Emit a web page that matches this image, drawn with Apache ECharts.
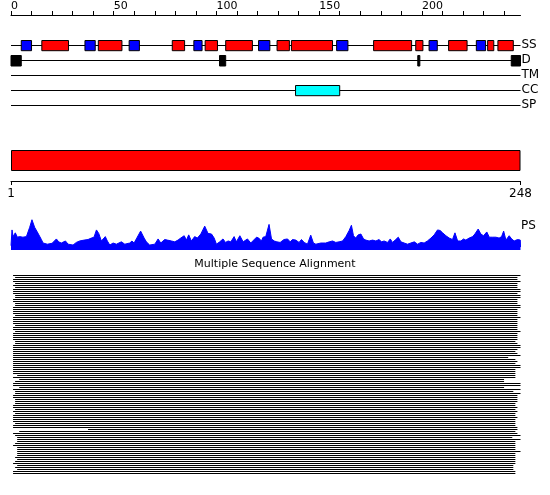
<!DOCTYPE html>
<html>
<head>
<meta charset="utf-8">
<title>Protein feature summary</title>
<script src="https://cdn.jsdelivr.net/npm/echarts@6/dist/echarts.min.js"></script>
<style>
  html, body { margin: 0; padding: 0; background: #fff; }
  #main { width: 550px; height: 495px; }
</style>
</head>
<body>
<div id="main"></div>
<script>
// sequence length and rulers
var seqLength = 248;
var rulerTicks = [0, 10, 20, 30, 40, 50, 60, 70, 80, 90, 100, 110, 120, 130, 140, 150, 160, 170, 180, 190, 200, 210, 220, 230, 240];
var rulerLabels = [0, 50, 100, 150, 200];
var endLabels = [1, 248];

// feature tracks (top to bottom)
var tracks = ['SS', 'D', 'TM', 'CC', 'SP'];

// secondary structure, [start, end]
var helices = [[15, 28], [42.5, 54], [78.5, 84.5], [94.5, 100.5], [104.5, 117.5], [129.5, 135.5],
  [136.5, 156.5], [176.5, 195], [197, 200.5], [213, 222], [232, 235], [237, 244.5]];
var strands = [[5, 10], [36, 41], [57.5, 62.5], [89, 93], [120.5, 126], [158.5, 164],
  [203.5, 207.5], [226.5, 231]];
// disorder and coiled coil
var disorder = [[0, 5], [101.5, 104.5], [198, 199], [243.5, 248]];
var coiledCoil = [[138.5, 160]];

// PS profile: residue position and score
var psPos = [0, 0.5, 1.0, 2.1, 3.1, 4.2, 5.8, 7.5, 8.0, 9.1, 10.2, 11.5, 12.8, 13.5, 14.8, 15.6, 17.7, 20.0,
  22.1, 23.2, 24.5, 26.5, 27.8, 30.2, 31.8, 33.4, 35.6, 37.5, 39.1, 40.4, 41.6, 42.7, 44.0, 45.9, 46.9,
  48.1, 49.7, 51.3, 53.7, 55.4, 57.8, 58.9, 59.9, 61.0, 63.1, 64.8, 65.9, 67.5, 70.0, 71.6, 72.9, 74.8,
  76.1, 78.1, 79.7, 81.3, 82.6, 84.3, 85.4, 86.5, 87.8, 89.4, 90.7, 92.4, 94.3, 95.9, 97.6, 98.9, 100.0,
  101.6, 103.2, 104.4, 105.7, 107.0, 108.6, 109.7, 111.4, 113.0, 115.1, 116.7, 119.5, 120.6, 121.9, 122.7,
  124.0, 125.6, 126.8, 128.1, 129.4, 131.0, 132.9, 134.6, 135.9, 137.0, 138.6, 140.2, 141.4, 142.7, 144.3,
  145.9, 147.2, 148.4, 150.8, 153.2, 154.9, 156.5, 158.1, 159.7, 161.4, 163.0, 164.6, 165.7, 166.7, 167.8,
  169.0, 170.3, 171.6, 172.7, 174.3, 176.0, 177.6, 179.2, 180.3, 181.6, 183.3, 184.6, 185.7, 187.3, 188.5,
  189.8, 191.4, 193.0, 194.6, 196.3, 197.9, 199.5, 201.1, 202.7, 204.4, 206.0, 207.6, 208.9, 210.1, 211.7,
  213.3, 214.9, 216.1, 217.4, 219.0, 220.3, 221.4, 223.0, 224.7, 225.8, 227.4, 228.7, 230.0, 231.6, 232.8,
  234.4, 236.0, 237.6, 238.8, 239.8, 240.9, 242.5, 243.7, 244.9, 246.6, 247.9, 248];
var psVal = [0.05, 0.59, 0.36, 0.49, 0.34, 0.36, 0.34, 0.36, 0.42, 0.68, 0.94, 0.68, 0.52, 0.55, 0.26, 0.14, 0.10, 0.13,
  0.28, 0.18, 0.14, 0.21, 0.10, 0.07, 0.16, 0.21, 0.24, 0.26, 0.31, 0.34, 0.59, 0.47, 0.21, 0.36, 0.21,
  0.07, 0.14, 0.10, 0.18, 0.10, 0.14, 0.21, 0.14, 0.28, 0.55, 0.31, 0.18, 0.07, 0.10, 0.28, 0.14, 0.26,
  0.24, 0.21, 0.18, 0.24, 0.31, 0.39, 0.24, 0.42, 0.21, 0.36, 0.31, 0.45, 0.72, 0.47, 0.45, 0.31, 0.10,
  0.18, 0.28, 0.16, 0.21, 0.18, 0.36, 0.18, 0.39, 0.18, 0.28, 0.14, 0.34, 0.31, 0.21, 0.34,
  0.36, 0.78, 0.28, 0.21, 0.18, 0.16, 0.26, 0.28, 0.18, 0.26, 0.24, 0.16, 0.26, 0.16, 0.10,
  0.41, 0.14, 0.10, 0.14, 0.14, 0.18, 0.21, 0.16, 0.18, 0.21, 0.36, 0.57, 0.75, 0.39, 0.31,
  0.42, 0.45, 0.28, 0.24, 0.21, 0.24, 0.21, 0.26, 0.18, 0.21, 0.16, 0.28, 0.16, 0.26, 0.34,
  0.18, 0.14, 0.10, 0.14, 0.18, 0.10, 0.16, 0.14, 0.21, 0.31, 0.42, 0.59, 0.57, 0.49, 0.39,
  0.31, 0.26, 0.49, 0.21, 0.21, 0.28, 0.24, 0.31, 0.36, 0.45, 0.62, 0.45, 0.39, 0.52, 0.34,
  0.34, 0.34, 0.31, 0.36, 0.55, 0.24, 0.39, 0.28, 0.21, 0.26, 0.24, 0];

// multiple sequence alignment: aligned span of each sequence (residues)
var alnStarts = [1, 2, 1, 1, 2, 1, 2, 1, 1, 1, 2, 2, 1, 1, 2, 2, 1, 1, 1, 1,
  2, 1, 1, 1, 1, 2, 1, 1, 2, 1, 1, 1, 1, 2, 2, 1, 1, 1, 1, 1,
  1, 1, 1, 1, 1, 1, 1, 1, 1, 1, 3, 1, 4, 2, 1, 1, 4, 1, 2, 2,
  1, 1, 2, 2, 2, 1, 1, 2, 1, 2, 1, 1, 1, 1, 2, 1, 1, 37.5, 4, 1,
  2, 3, 3, 3, 2, 1, 3, 3, 3, 3, 3, 2, 3, 2, 1, 3, 2, 3, 1, 1];
var alnEnds = [248, 246.5, 246.5, 248, 246.5, 246.5, 246.5, 248, 248, 246.5,
  248, 248, 246.5, 246.5, 246.5, 248, 248, 246.5, 246.5, 246.5,
  246.5, 248, 246.5, 246.5, 246.5, 246.5, 246.5, 246.5, 248, 246.5,
  246.5, 246.5, 246.5, 245.5, 246.5, 248, 248, 246.5, 245.5, 246.5,
  248, 242, 245.5, 246.5, 245.5, 248, 248, 245.5, 245.5, 245.5,
  245.5, 245.5, 240, 240, 248, 248, 240, 248, 244.5, 248,
  246.5, 246.5, 246.5, 246.5, 245.5, 245.5, 246.5, 245.5, 246.5, 245.5,
  245.5, 246.5, 245.5, 245.5, 245.5, 245.5, 246.5, 246.5, 245.5, 246.5,
  248, 244, 248, 245.5, 245.5, 245.5, 245.5, 245.5, 248, 245.5,
  245.5, 245.5, 245.5, 245.5, 245.5, 244.5, 244.5, 244.5, 245.5, 245.5];

var rowNames = alnStarts.map(function (s, i) { return 'seq' + (i + 1); });

var FONT = 'DejaVu Sans';

// box drawn on one feature track
function boxRenderer(trackIndex, heightRatio, fill) {
  return function (params, api) {
    var s = api.coord([api.value(0), trackIndex]);
    var e = api.coord([api.value(1), trackIndex]);
    var h = api.size([0, 1])[1] * heightRatio;
    return {
      type: 'rect',
      shape: { x: s[0], y: Math.round(s[1] - h / 2) + 0.5, width: Math.max(e[0] - s[0], 2), height: h },
      style: { fill: fill, stroke: '#000', lineWidth: 1 }
    };
  };
}

function featureSeries(data, trackIndex, heightRatio, fill) {
  return {
    type: 'custom',
    xAxisIndex: 0,
    yAxisIndex: 0,
    z: 3,
    renderItem: boxRenderer(trackIndex, heightRatio, fill),
    data: data
  };
}

var myChart = echarts.init(document.getElementById('main'));

var option = {
  animation: false,
  backgroundColor: '#fff',
  title: [
    {
      text: 'Multiple Sequence Alignment',
      left: 'center',
      top: 259,
      padding: 0,
      textStyle: { fontFamily: FONT, fontSize: 11, fontWeight: 'normal', color: '#000' }
    },
    {
      text: 'PS',
      left: 521,
      top: 220,
      padding: 0,
      textStyle: { fontFamily: FONT, fontSize: 12, fontWeight: 'normal', color: '#000' }
    }
  ],
  grid: [
    { left: 11, width: 509.5, top: 37.5, height: 75 },   // ruler + tracks
    { left: 11, width: 509.5, top: 150, height: 21 },    // full-length bar
    { left: 11, width: 509.5, top: 171, height: 10 },    // 1..248 ruler
    { left: 11, width: 509.5, top: 218, height: 32 },    // PS profile
    { left: 11, width: 509.5, top: 274, height: 200 }    // alignment
  ],
  xAxis: [
    {
      gridIndex: 0,
      type: 'value',
      position: 'top',
      offset: 22.5,
      min: 0,
      max: seqLength,
      interval: 10,
      axisLine: { show: true, lineStyle: { color: '#000', width: 1 } },
      axisTick: { show: true, length: 4, customValues: rulerTicks, lineStyle: { color: '#000' } },
      axisLabel: {
        customValues: rulerLabels,
        align: 'left',
        margin: 3,
        fontFamily: FONT,
        fontSize: 11,
        color: '#000'
      },
      splitLine: { show: false }
    },
    { gridIndex: 1, type: 'value', min: 0, max: seqLength, show: false },
    {
      gridIndex: 2,
      type: 'value',
      position: 'bottom',
      min: 1,
      max: seqLength,
      axisLine: { show: true, lineStyle: { color: '#000', width: 1 } },
      axisTick: { show: true, length: 4, customValues: endLabels, lineStyle: { color: '#000' } },
      axisLabel: { customValues: endLabels, margin: 7, fontFamily: FONT, fontSize: 12, color: '#000' },
      splitLine: { show: false }
    },
    { gridIndex: 3, type: 'value', min: 0, max: seqLength, show: false },
    { gridIndex: 4, type: 'value', min: 0, max: seqLength, show: false }
  ],
  yAxis: [
    {
      gridIndex: 0,
      type: 'category',
      data: tracks,
      inverse: true,
      position: 'right',
      axisLine: { show: false },
      axisTick: { show: false },
      axisLabel: { interval: 0, margin: 1, align: 'left', fontFamily: FONT, fontSize: 12, color: '#000' },
      splitLine: { show: false }
    },
    { gridIndex: 1, type: 'category', data: ['protein'], show: false },
    { gridIndex: 2, type: 'value', show: false },
    // PS scale: a small floor below zero keeps the profile's base band visible
    { gridIndex: 3, type: 'value', min: -0.1, max: 1, show: false },
    { gridIndex: 4, type: 'category', data: rowNames, inverse: true, show: false }
  ],
  series: [
    // track backbones
    {
      type: 'custom',
      xAxisIndex: 0,
      yAxisIndex: 0,
      z: 2,
      renderItem: function (params, api) {
        var s = api.coord([api.value(0), api.value(2)]);
        var e = api.coord([api.value(1), api.value(2)]);
        var y = Math.round(s[1]) + 0.5;
        return {
          type: 'line',
          shape: { x1: s[0], y1: y, x2: e[0], y2: y },
          style: { stroke: '#000', lineWidth: 1 }
        };
      },
      data: tracks.map(function (t, i) { return [0, seqLength, i]; })
    },
    featureSeries(helices, 0, 0.68, '#ff0000'),
    featureSeries(strands, 0, 0.68, '#0000ff'),
    featureSeries(disorder, 1, 0.7, '#000'),
    featureSeries(coiledCoil, 3, 0.68, '#00ffff'),
    // full-length domain bar
    {
      type: 'bar',
      xAxisIndex: 1,
      yAxisIndex: 1,
      barWidth: '100%',
      data: [seqLength],
      itemStyle: { color: '#ff0000', borderColor: '#000', borderWidth: 1 }
    },
    // PS profile
    {
      type: 'line',
      xAxisIndex: 3,
      yAxisIndex: 3,
      symbol: 'none',
      data: psPos.map(function (p, i) { return [p, psVal[i]]; }),
      lineStyle: { color: '#0000ff', width: 1 },
      areaStyle: { color: '#0000ff', opacity: 1, origin: 'start' }
    },
    // alignment rows
    {
      type: 'custom',
      xAxisIndex: 4,
      yAxisIndex: 4,
      renderItem: function (params, api) {
        var s = api.coord([api.value(0), api.value(2)]);
        var e = api.coord([api.value(1), api.value(2)]);
        return {
          type: 'rect',
          shape: { x: s[0], y: Math.floor(s[1]), width: e[0] - s[0], height: 1 },
          style: { fill: '#000' }
        };
      },
      data: alnStarts.map(function (s, i) { return [s, alnEnds[i], i]; })
    }
  ]
};

myChart.setOption(option);
</script>
</body>
</html>
